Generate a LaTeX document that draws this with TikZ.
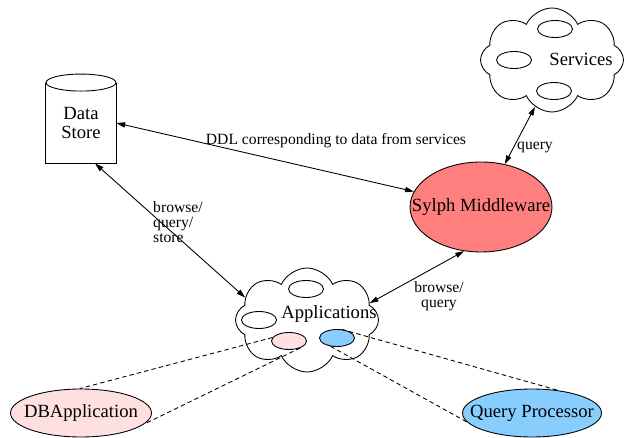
\documentclass[tikz,border=0pt]{standalone}
\usepackage{fontspec}
\setmainfont{Liberation Serif}
\usetikzlibrary{arrows.meta, shapes.geometric, shapes.symbols, calc}
\definecolor{sylphred}{HTML}{FF7F7F}
\definecolor{dbpink}{HTML}{FFE0E0}
\definecolor{qpblue}{HTML}{87CEFF}
\begin{document}
\begin{tikzpicture}[x=0.02cm, y=-0.02cm,
  line width=0.5pt,
  every node/.style={font=\fontsize{10.6}{10.8}\selectfont, inner sep=0pt},
  lbl/.style={font=\fontsize{8.9}{8.6}\selectfont},
  puffy/.style={cloud, draw, cloud puffs=8, cloud puff arc=130, minimum width=2.86cm, minimum height=2.08cm},
  blob/.style={ellipse, draw, minimum width=0.7cm, minimum height=0.34cm},
  comp/.style={ellipse, draw, inner xsep=-25pt, minimum width=2.8cm, minimum height=0.96cm},
  link/.style={{Triangle[length=5pt,width=3pt]}-{Triangle[length=5pt,width=3pt]}},
  assoc/.style={dash pattern=on 2.5pt off 1.8pt},
]
\useasboundingbox (0,0) rectangle (624,438);
\node[minimum width=1.4cm, minimum height=1.6cm, align=center] (store) at (81,123) {Data\\Store};
\draw (store.north west) -- (store.south west) -- (store.south east) -- (store.north east);
\draw (store.north) ellipse [x radius=0.7cm, y radius=0.17cm];
\node[puffy] (svc) at (552,60) {};
\node[blob] (svc1) at (555,29) {};
\node[blob] (svc2) at (514,60) {};
\node[blob] (svc3) at (554,91) {};
\node (svclbl) at (581,59) {Services};
\node[comp, fill=sylphred, minimum width=2.84cm, minimum height=1.8cm] (sylph) at (481,207) {Sylph Middleware};
\node[puffy] (apps) at (307,320) {};
\node[blob] (app1) at (306,289) {};
\node[blob] (app2) at (259,320) {};
\node[blob, fill=dbpink] (app3) at (289,341) {};
\node[blob, fill=qpblue] (app4) at (337,338) {};
\node (appslbl) at (329,314) {Applications};
\node[comp, fill=dbpink, minimum width=2.82cm] (dbapp) at (81,413) {DBApplication};
\node[comp, fill=qpblue, minimum width=2.78cm] (qp) at (532,413) {Query Processor};
\draw[link] (store.east) -- (sylph);
\draw[link] ([xshift=0.28cm]store.south) -- (apps.160);
\draw[link] (svc.250) -- (sylph.61);
\draw[link] (apps.15) -- (sylph.249);
\draw[assoc] (app3.168) -- (dbapp.93);
\draw[assoc] (app3.-32) -- (dbapp.-10);
\draw[assoc] (app4.61) -- (qp.41);
\draw[assoc] (app4.232) -- (qp.188);
\node[lbl] (ddl) at (336,141) {DDL corresponding to data from services};
\node[lbl, align=left] (bqs) at (178,222) {browse/\\query/\\store};
\node[lbl] (qry) at (535,147) {query};
\node[lbl, align=center] (bq) at (439,296) {browse/\\query};
\end{tikzpicture}
\end{document}
